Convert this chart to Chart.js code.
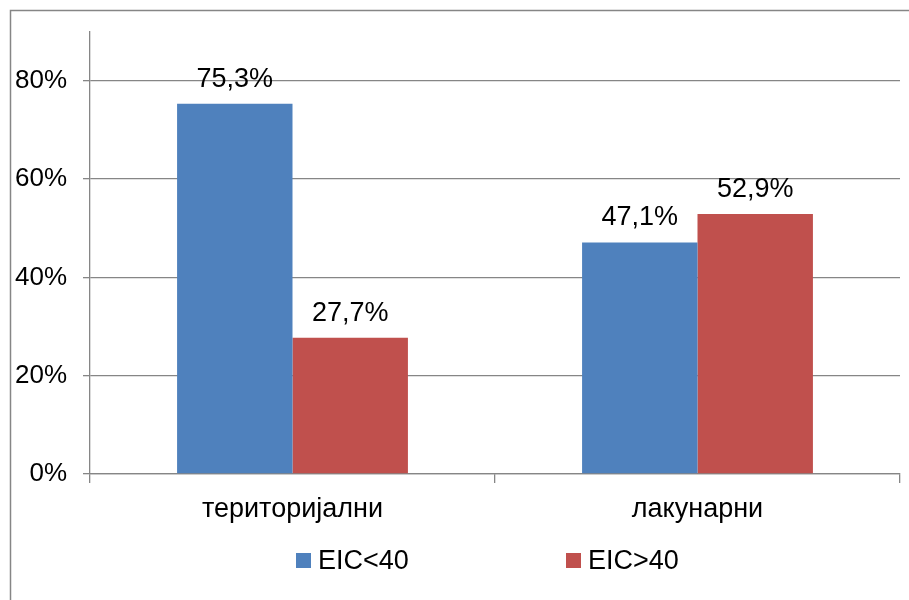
<!DOCTYPE html>
<html>
<head>
<meta charset="utf-8">
<script src="https://cdn.jsdelivr.net/npm/chart.js@4"></script>
<style>
  html, body { margin: 0; padding: 0; background: #fff; }
</style>
</head>
<body>
<canvas id="myChart" width="909" height="600"></canvas>
<script>
// DATA
const categories = ["територијални", "лакунарни"];
const seriesNames = ["EIC<40", "EIC>40"];
const eicBelow40 = [75.3, 47.1];
const eicAbove40 = [27.7, 52.9];
const yTicks = [0, 20, 40, 60, 80];

const seriesColors = ["#4F81BD", "#C0504D"];
const axisGray = "#868686";
const fontFamily = "Arial, 'Liberation Sans', sans-serif";

const pct = v => v.toFixed(1).replace(".", ",") + "%";

// outer frame of the picture
const framePlugin = {
    id: "frame",
    beforeDraw(chart) {
        const ctx = chart.ctx;
        ctx.save();
        ctx.fillStyle = "#fff";
        ctx.fillRect(0, 0, chart.width, chart.height);
        ctx.strokeStyle = axisGray;
        ctx.lineWidth = 1.5;
        ctx.strokeRect(10.5, 10.5, 1000, 1000);
        ctx.restore();
    },
};

// value labels above the bars
const valueLabels = {
    id: "valueLabels",
    afterDatasetsDraw(chart) {
        const ctx = chart.ctx;
        ctx.save();
        ctx.font = "27px " + fontFamily;
        ctx.fillStyle = "#000";
        ctx.textAlign = "center";
        ctx.textBaseline = "alphabetic";
        chart.data.datasets.forEach((ds, i) => {
            chart.getDatasetMeta(i).data.forEach((bar, j) => {
                ctx.fillText(pct(ds.data[j]), bar.x, bar.y - 17);
            });
        });
        ctx.restore();
    },
};

// legend row under the axis
const legendRow = {
    id: "legendRow",
    afterDraw(chart) {
        const ctx = chart.ctx;
        const startX = [296, 566];
        ctx.save();
        ctx.font = "27px " + fontFamily;
        ctx.textBaseline = "alphabetic";
        ctx.textAlign = "left";
        chart.data.datasets.forEach((ds, i) => {
            ctx.fillStyle = ds.backgroundColor;
            ctx.fillRect(startX[i], 553, 15, 15);
            ctx.fillStyle = "#000";
            ctx.fillText(ds.label, startX[i] + 22, 569);
        });
        ctx.restore();
    },
};

const data = {
    labels: categories,
    datasets: [
        { label: seriesNames[0], data: eicBelow40, backgroundColor: seriesColors[0] },
        { label: seriesNames[1], data: eicAbove40, backgroundColor: seriesColors[1] },
    ],
};

const config = {
    type: "bar",
    data: data,
    options: {
        responsive: false,
        animation: false,
        events: [],
        categoryPercentage: 0.57,
        barPercentage: 1,
        layout: { padding: { top: 30, right: 9, left: 0, bottom: 0 } },
        scales: {
            x: {
                grid: {
                    offset: true,
                    drawOnChartArea: false,
                    color: axisGray,
                    lineWidth: 1.3,
                    tickLength: 9,
                },
                border: { display: true, color: axisGray, width: 1.3 },
                ticks: {
                    color: "#000",
                    font: { size: 27, family: fontFamily },
                    padding: 10,
                    maxRotation: 0,
                },
                afterFit(scale) { scale.height = 126; },
            },
            y: {
                min: 0,
                max: 90,
                afterBuildTicks(scale) {
                    scale.ticks = yTicks.map(v => ({ value: v }));
                },
                grid: { color: axisGray, lineWidth: 1.3, tickLength: 7 },
                border: { display: true, color: axisGray, width: 1.3 },
                ticks: {
                    color: "#000",
                    font: { size: 26, family: fontFamily },
                    padding: 16,
                    callback: v => v + "%",
                },
                afterFit(scale) { scale.width = 90; },
            },
        },
        plugins: {
            legend: { display: false },
            tooltip: { enabled: false },
        },
    },
    plugins: [framePlugin, valueLabels, legendRow],
};

const myChart = new Chart(document.getElementById("myChart"), config);
</script>
</body>
</html>
